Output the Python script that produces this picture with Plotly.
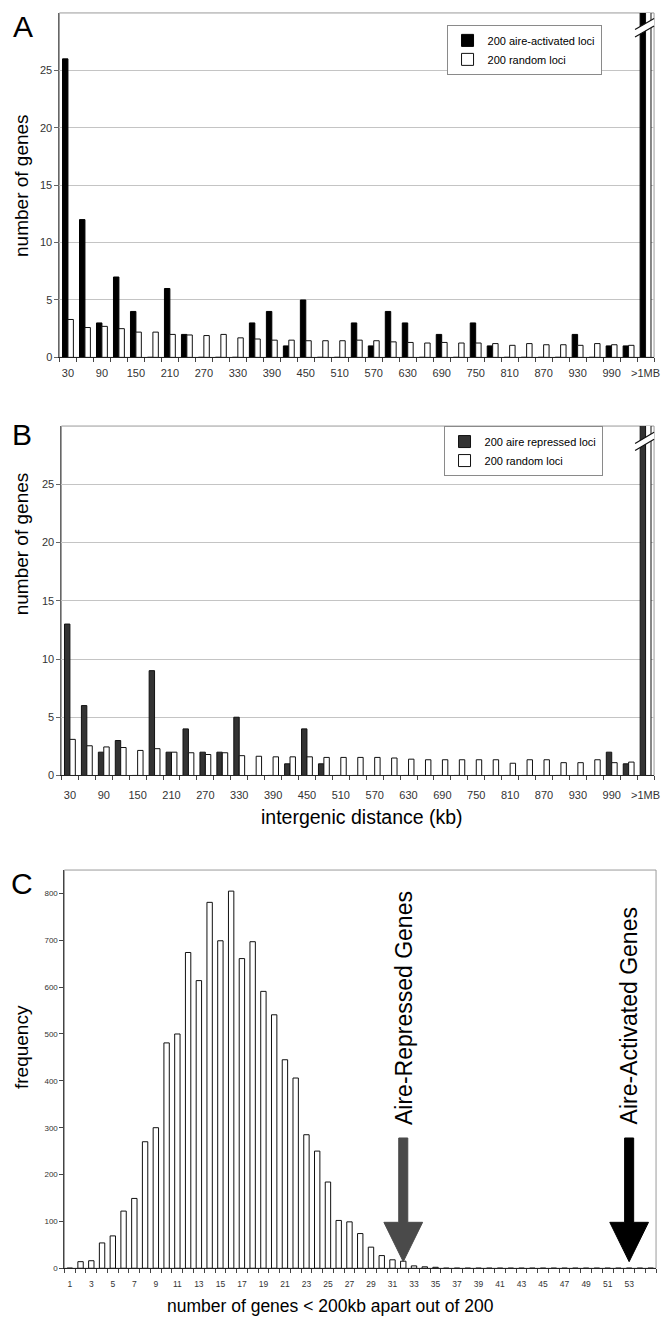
import plotly.graph_objects as go

# ---------------- data ----------------
KB_BINS = [str(v) for v in range(30, 1021, 30)] + [">1MB"]
KB_TICK_LABELS = [lab if i % 2 == 0 else "" for i, lab in enumerate(KB_BINS)]

A_ACTIVATED = [26, 12, 3, 7, 4, 0, 6, 2, 0, 0, 0, 3, 4, 1, 5, 0, 0, 3, 1, 4,
               3, 0, 2, 0, 3, 1, 0, 0, 0, 0, 2, 0, 1, 1, 95]
A_RANDOM = [3.3, 2.6, 2.7, 2.5, 2.2, 2.2, 2.0, 1.95, 1.9, 2.0, 1.7, 1.6, 1.5, 1.5,
            1.45, 1.45, 1.45, 1.5, 1.45, 1.35, 1.3, 1.25, 1.3, 1.25, 1.25, 1.2,
            1.05, 1.2, 1.1, 1.1, 1.05, 1.2, 1.1, 1.05, 60]

B_REPRESSED = [13, 6, 2, 3, 0, 9, 2, 4, 2, 2, 5, 0, 0, 1, 4, 1, 0, 0, 0, 0,
               0, 0, 0, 0, 0, 0, 0, 0, 0, 0, 0, 0, 2, 1, 95]
B_RANDOM = [3.1, 2.55, 2.45, 2.4, 2.15, 2.3, 2.0, 1.95, 1.8, 1.95, 1.7, 1.65, 1.6,
            1.6, 1.6, 1.55, 1.55, 1.55, 1.55, 1.5, 1.4, 1.35, 1.35, 1.35, 1.35,
            1.35, 1.05, 1.35, 1.35, 1.1, 1.1, 1.35, 1.1, 1.15, 60]

C_COUNTS = list(range(1, 56))
C_FREQ = [0, 14, 16, 54, 69, 122, 149, 270, 300, 481, 500, 674, 614, 781, 699,
          805, 661, 697, 591, 541, 445, 406, 285, 250, 184, 102, 99, 74, 45, 27,
          18, 15, 5, 3, 2] + [0] * 20
C_TICK_LABELS = [str(v) if (v % 2 == 1 and v <= 53) else "" for v in C_COUNTS]

REPRESSED_CLUSTERED = 32
ACTIVATED_CLUSTERED = 53

# ---------------- layout helpers ----------------
W, H = 666, 1324
FONT = "Liberation Sans, Arial, Helvetica, sans-serif"


def fx(p):
    return p / W


def fy(p):
    return 1 - p / H


fig = go.Figure()

# Panel A
fig.add_trace(go.Bar(x=KB_BINS, y=A_ACTIVATED, name="200 aire-activated loci",
                     marker=dict(color="#000000", line=dict(color="#000000", width=1)),
                     xaxis="x", yaxis="y", legend="legend"))
fig.add_trace(go.Bar(x=KB_BINS, y=A_RANDOM, name="200 random loci",
                     marker=dict(color="#ffffff", line=dict(color="#111111", width=1)),
                     xaxis="x", yaxis="y", legend="legend"))
# Panel B
fig.add_trace(go.Bar(x=KB_BINS, y=B_REPRESSED, name="200 aire repressed loci",
                     marker=dict(color="#333333", line=dict(color="#111111", width=1)),
                     xaxis="x2", yaxis="y2", legend="legend2"))
fig.add_trace(go.Bar(x=KB_BINS, y=B_RANDOM, name="200 random loci",
                     marker=dict(color="#ffffff", line=dict(color="#111111", width=1)),
                     xaxis="x2", yaxis="y2", legend="legend2"))
# Panel C
fig.add_trace(go.Bar(x=C_COUNTS, y=C_FREQ, showlegend=False, width=0.5,
                     marker=dict(color="#ffffff", line=dict(color="#111111", width=1)),
                     xaxis="x3", yaxis="y3"))

cat_x = dict(type="category", categoryorder="array", categoryarray=KB_BINS,
             tickmode="array", tickvals=KB_BINS, ticktext=KB_TICK_LABELS,
             tickson="boundaries", ticks="outside", ticklen=4, tickcolor="#444",
             tickangle=0,
             showline=True, linecolor="#222", linewidth=1, showgrid=False,
             zeroline=False, tickfont=dict(size=11, color="#333", family=FONT))
count_y = dict(range=[0, 30], tickmode="array", tickvals=[0, 5, 10, 15, 20, 25],
               showgrid=True, gridcolor="#c4c4c4", gridwidth=1, zeroline=False,
               showline=True, linecolor="#666", ticks="outside", ticklen=4,
               tickcolor="#666", tickfont=dict(size=11, color="#333", family=FONT))

fig.update_layout(
    width=W, height=H, margin=dict(l=0, r=0, t=0, b=0),
    paper_bgcolor="white", plot_bgcolor="white",
    font=dict(family=FONT, color="#000"),
    barmode="group", bargap=0.36, bargroupgap=0.0,
    xaxis=dict(domain=[fx(60), fx(660)], anchor="y", ticklabelstandoff=5, **cat_x),
    yaxis=dict(domain=[fy(359), fy(13)], anchor="x", **count_y),
    xaxis2=dict(domain=[fx(62), fx(660)], anchor="y2", ticklabelstandoff=9, **cat_x),
    yaxis2=dict(domain=[fy(779), fy(428)], anchor="x2", **count_y),
    xaxis3=dict(domain=[fx(65), fx(662)], anchor="y3", range=[0.5, 55.5],
                tickmode="array", tickvals=C_COUNTS, ticktext=C_TICK_LABELS,
                tickangle=0, ticklabelstandoff=8,
                ticks="", showline=True, linecolor="#222", showgrid=False,
                zeroline=False, tickfont=dict(size=8.5, color="#333", family=FONT),
                minor=dict(tick0=0.5, dtick=1, ticks="outside", ticklen=4,
                           tickcolor="#444", showgrid=False)),
    yaxis3=dict(domain=[fy(1274), fy(874)], anchor="x3", range=[0, 850],
                tickmode="array", tickvals=list(range(0, 801, 100)),
                showgrid=False, zeroline=False, showline=True, linecolor="#444",
                ticks="outside", ticklen=4, tickcolor="#444",
                tickfont=dict(size=8, color="#333", family=FONT)),
    legend=dict(x=fx(607), y=fy(25), xanchor="right", yanchor="top",
                bgcolor="white", bordercolor="#8a8a8a", borderwidth=1,
                font=dict(size=11, family=FONT), tracegroupgap=0,
                itemwidth=30),
    legend2=dict(x=fx(608), y=fy(428), xanchor="right", yanchor="top",
                 bgcolor="white", bordercolor="#8a8a8a", borderwidth=1,
                 font=dict(size=11, family=FONT), tracegroupgap=0,
                 itemwidth=30),
)

shapes = []
# plot-area frames
for xr, yr in (("x", "y"), ("x2", "y2"), ("x3", "y3")):
    shapes.append(dict(type="rect", xref=f"{xr} domain", yref=f"{yr} domain",
                       x0=0, x1=1, y0=0, y1=1, line=dict(color="#9a9a9a", width=1),
                       layer="below"))

# axis-break marks on the >1MB bars
def break_marks(xr, yr, ylo0, ylo1, yup0, yup1):
    out = [dict(type="path", xref=f"{xr} domain", yref=f"{yr} domain",
                path=f"M 0.968,{ylo0} L 1.0,{ylo1} L 1.0,{yup1} L 0.968,{yup0} Z",
                fillcolor="white", line=dict(width=0), layer="above")]
    for a, b in ((ylo0, ylo1), (yup0, yup1)):
        out.append(dict(type="line", xref=f"{xr} domain", yref=f"{yr} domain",
                        x0=0.968, x1=1.0, y0=a, y1=b,
                        line=dict(color="#111", width=1.2), layer="above"))
    return out

shapes += break_marks("x", "y", 0.930, 0.962, 0.952, 0.984)
shapes += break_marks("x2", "y2", 0.930, 0.962, 0.950, 0.982)

# arrows in panel C
def arrow(xc, color):
    sh, hh = 0.42, 1.8
    tip, base, top = 14, 98, 278
    p = (f"M {xc - sh},{top} L {xc + sh},{top} L {xc + sh},{base} L {xc + hh},{base} "
         f"L {xc},{tip} L {xc - hh},{base} L {xc - sh},{base} Z")
    return dict(type="path", xref="x3", yref="y3", path=p, fillcolor=color,
                line=dict(color=color, width=1), layer="above")

shapes.append(arrow(REPRESSED_CLUSTERED, "#4a4a4a"))
shapes.append(arrow(ACTIVATED_CLUSTERED, "#000000"))
fig.update_layout(shapes=shapes)

ann = []
for letter, (px, py) in {"A": (23, 27), "B": (22, 436), "C": (22, 888)}.items():
    ann.append(dict(text=letter, x=fx(px), y=fy(py), xref="paper", yref="paper",
                    xanchor="center", yanchor="middle", showarrow=False,
                    font=dict(size=30, family=FONT, color="#000")))
for txt, px, py in (("number of genes", 21, 186), ("number of genes", 22, 546),
                    ("frequency", 21, 1052)):
    ann.append(dict(text=txt, x=fx(px), y=fy(py), xref="paper", yref="paper",
                    xanchor="center", yanchor="middle", textangle=-90,
                    showarrow=False, font=dict(size=19, family=FONT, color="#000")))
ann.append(dict(text="intergenic distance (kb)", x=fx(365), y=fy(821),
                xref="paper", yref="paper", xanchor="center", yanchor="middle",
                showarrow=False, font=dict(size=19.5, family=FONT, color="#000")))
ann.append(dict(text="number of genes &lt; 200kb apart out of 200", x=fx(333), y=fy(1312),
                xref="paper", yref="paper", xanchor="center", yanchor="middle",
                showarrow=False, font=dict(size=17.5, family=FONT, color="#000")))
for txt, xc in (("Aire-Repressed Genes", REPRESSED_CLUSTERED),
                ("Aire-Activated Genes", ACTIVATED_CLUSTERED)):
    ann.append(dict(text=txt, x=xc, y=302, xref="x3", yref="y3",
                    xanchor="center", yanchor="bottom", textangle=-90,
                    showarrow=False, font=dict(size=23, family=FONT, color="#000")))
fig.update_layout(annotations=ann)

fig.write_html("out.html")
